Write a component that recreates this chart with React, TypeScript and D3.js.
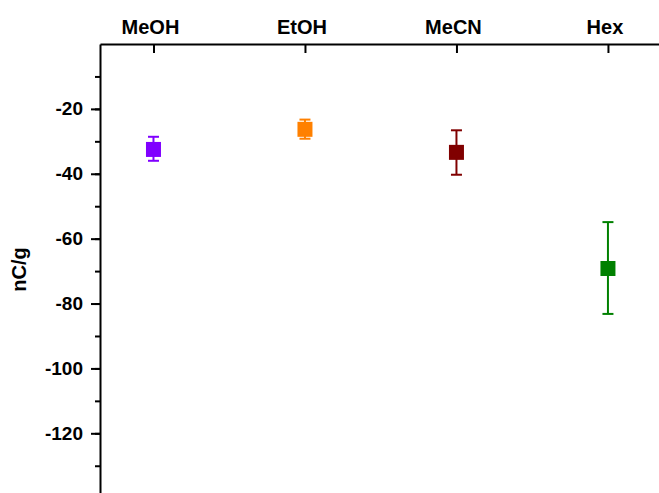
import React, { useRef, useEffect } from 'react';
import * as d3 from 'd3';

const categories = ['MeOH', 'EtOH', 'MeCN', 'Hex'];
const means = [-32.5, -26.3, -33.4, -69.2];
const errUp = [3.9, 3.0, 6.8, 14.3];
const errDown = [3.5, 2.9, 6.9, 14.0];
const colors = ['#8000ff', '#ff8000', '#800000', '#008000'];
const yTicks = [-20, -40, -60, -80, -100, -120];

function App() {
  const svgRef = useRef<SVGSVGElement>(null);

  useEffect(() => {
    const svg = d3.select(svgRef.current);
    svg.selectAll('*').remove();

    const width = 659;
    const height = 493;
    const left = 100;
    const top = 44;

    const x = d3.scaleLinear().domain([0.647, 4.337]).range([left, width]);
    const y = d3.scaleLinear().domain([0, -138.4]).range([top, height]);

    const font = 'Liberation Sans, Arial, sans-serif';

    // top axis
    const xAxis = svg.append('g')
      .attr('transform', `translate(0, ${top})`)
      .call(d3.axisTop(x).tickValues([1, 2, 3, 4]).tickSize(-9).tickSizeOuter(0).tickFormat(() => ''));
    xAxis.select('.domain').attr('stroke-width', 2);
    xAxis.selectAll('line').attr('stroke-width', 2);

    svg.append('g')
      .selectAll('text')
      .data(categories)
      .join('text')
      .attr('x', (d, i) => x(i + 1) - 3)
      .attr('y', 34)
      .attr('text-anchor', 'middle')
      .attr('font-family', font)
      .attr('font-weight', 'bold')
      .attr('font-size', '20px')
      .text(d => d);

    // left axis
    const minor = d3.range(-10, -140, -10);
    const yMinor = svg.append('g')
      .attr('transform', `translate(${left}, 0)`)
      .call(d3.axisLeft(y).tickValues(minor).tickSize(5).tickSizeOuter(0).tickFormat(() => ''));
    yMinor.selectAll('line').attr('stroke-width', 2);
    yMinor.select('.domain').attr('stroke-width', 2);

    const yAxis = svg.append('g')
      .attr('transform', `translate(${left}, 0)`)
      .call(d3.axisLeft(y).tickValues(yTicks).tickSize(9).tickPadding(8).tickSizeOuter(0).tickFormat(d => String(d)));
    yAxis.select('.domain').remove();
    yAxis.selectAll('line').attr('stroke-width', 2);
    yAxis.selectAll('text')
      .attr('font-family', font)
      .attr('font-weight', 'bold')
      .attr('font-size', '19px')
      .attr('fill', '#000');

    svg.append('text')
      .attr('transform', `translate(26, ${y(-69.5)}) rotate(-90)`)
      .attr('text-anchor', 'middle')
      .attr('font-family', font)
      .attr('font-weight', 'bold')
      .attr('font-size', '20px')
      .text('nC/g');

    // error bars and markers
    const g = svg.append('g');
    categories.forEach((c, i) => {
      const cx = x(i + 1);
      const hi = y(means[i] + errUp[i]);
      const lo = y(means[i] - errDown[i]);
      g.append('line')
        .attr('x1', cx).attr('x2', cx).attr('y1', hi).attr('y2', lo)
        .attr('stroke', colors[i]).attr('stroke-width', 2);
      [hi, lo].forEach(v => {
        g.append('line')
          .attr('x1', cx - 5.5).attr('x2', cx + 5.5).attr('y1', v).attr('y2', v)
          .attr('stroke', colors[i]).attr('stroke-width', 2);
      });
      g.append('rect')
        .attr('x', cx - 7.5).attr('y', y(means[i]) - 7.5)
        .attr('width', 15).attr('height', 15)
        .attr('fill', colors[i]);
    });
  }, []);

  return (
    <svg ref={svgRef} width={659} height={493}
      style={{ position: 'absolute', left: 0, top: 0 }} />
  );
}

export default App;
